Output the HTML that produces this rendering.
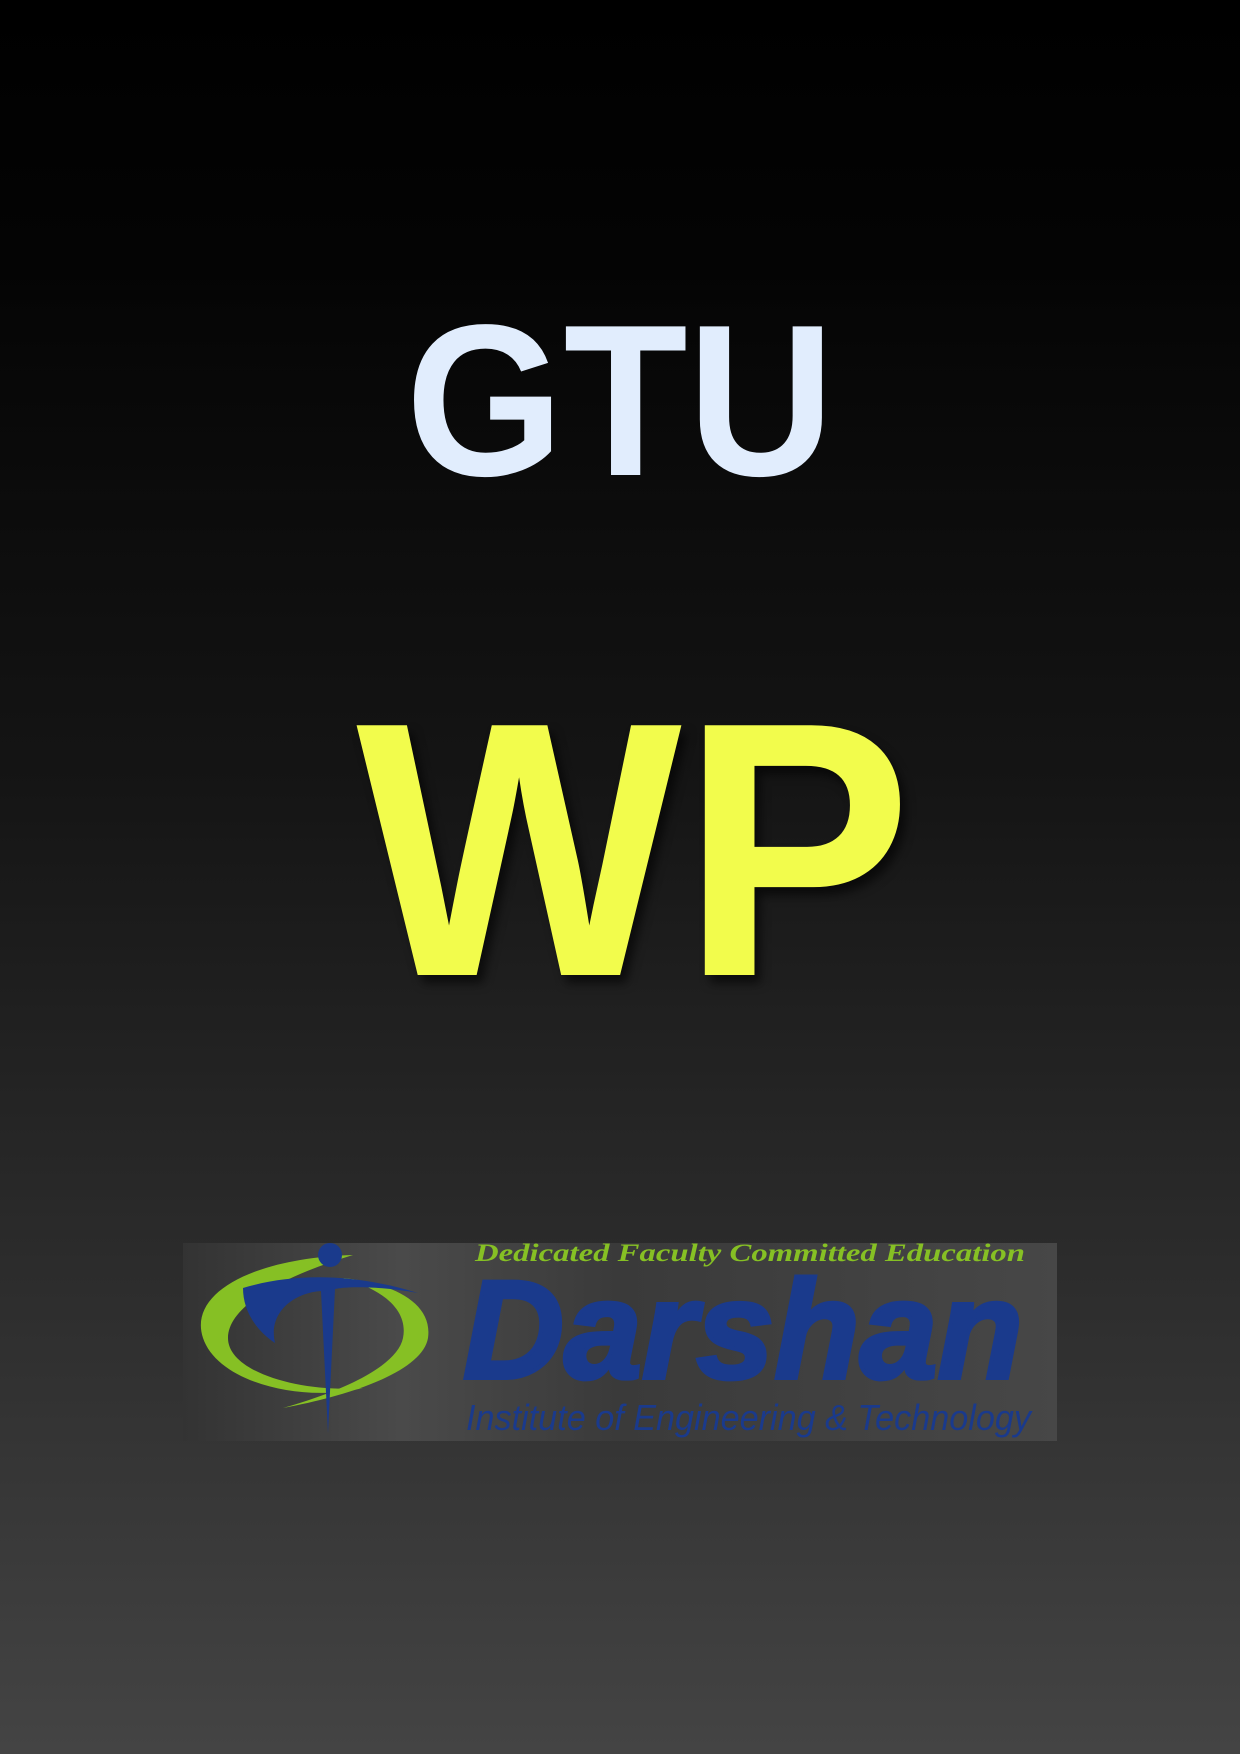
<!DOCTYPE html>
<html><head><meta charset="utf-8"><style>
html,body{margin:0;padding:0}
body{width:1240px;height:1754px;position:relative;overflow:hidden;background:linear-gradient(#000 0%,#040404 15%,#151515 45%,#2a2a2a 70%,#444 100%);font-family:"Liberation Sans",sans-serif}
.t{position:absolute;left:0;width:1240px;text-align:center;font-weight:bold;line-height:1}
</style></head><body>
<div class="t" style="top:292px;font-size:216px;color:#e1edfd;transform:scaleX(0.94)">GTU</div>
<div class="t" style="top:668px;left:14px;font-size:363px;color:#f2fc4c;text-shadow:6px 8px 10px rgba(0,0,0,0.6);transform:scaleX(0.95)">WP</div>
<svg style="position:absolute;left:183px;top:1243px" width="874" height="198" viewBox="0 0 874 198">
<defs><linearGradient id="g" x1="0" x2="1"><stop offset="0" stop-color="#333"/><stop offset="0.25" stop-color="#4a4a4a"/><stop offset="0.5" stop-color="#3a3a3a"/><stop offset="1" stop-color="#474747"/></linearGradient></defs>
<rect width="874" height="198" fill="url(#g)"/>
<path d="M170 12 C70 15 5 50 20 95 C35 140 120 160 180 145 C120 150 45 130 45 95 C45 60 110 30 170 12Z" fill="#86c024"/>
<path d="M100 165 C180 150 240 125 245 95 C250 60 210 40 160 35 C205 48 225 70 220 95 C215 120 170 145 100 165Z" fill="#86c024"/>
<circle cx="147" cy="12" r="12" fill="#1a3a8c"/>
<path d="M60 45 C110 30 170 30 235 50 C190 42 160 44 152 46 L145 190 L138 48 C110 50 85 70 92 100 C70 85 60 65 60 45Z" fill="#1a3a8c"/>
<text x="292" y="18" font-family="Liberation Serif,serif" font-style="italic" font-weight="bold" font-size="25" fill="#86c024" textLength="550" lengthAdjust="spacingAndGlyphs">Dedicated Faculty Committed Education</text>
<text x="280" y="135" font-family="Liberation Sans,sans-serif" font-style="italic" font-weight="bold" font-size="140" fill="#1a3a8c" stroke="#1a3a8c" stroke-width="4" textLength="560" lengthAdjust="spacingAndGlyphs">Darshan</text>
<text x="283" y="187" font-family="Liberation Sans,sans-serif" font-style="italic" font-size="36" fill="#1a3a8c" textLength="565" lengthAdjust="spacingAndGlyphs">Institute of Engineering &amp; Technology</text>
</svg>
</body></html>
